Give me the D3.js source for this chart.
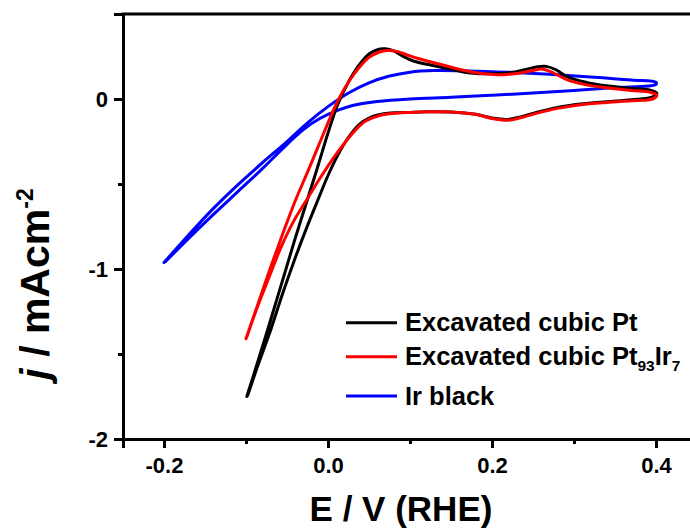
<!DOCTYPE html>
<html><head><meta charset="utf-8">
<script src="https://cdn.jsdelivr.net/npm/d3@7"></script>
<style>
body{margin:0;background:#fff;}
svg{display:block;}
text{font-family:Arial,"Liberation Sans",sans-serif;font-weight:bold;fill:#000;}
</style></head>
<body>
<svg id="c" width="690" height="528"></svg>
<script>
// ---- data ----
const xMajorTicks = [-0.2, 0.0, 0.2, 0.4];
const xMinorTicks = [-0.1, 0.1, 0.3];
const yMajorTicks = [-2, -1, 0];
const yMinorTicks = [-1.5, -0.5, 0.5];
const seriesNames = ["Excavated cubic Pt", "Excavated cubic Pt93Ir7", "Ir black"];
const seriesColors = ["#000000", "#ff0000", "#0000ff"];

// Excavated cubic Pt: E (V) and j (mA cm^-2) in sweep order
const ptE = [-0.099,-0.085,-0.070,-0.055,-0.040,-0.025,-0.012,0.000,0.012,0.025,0.038,0.050,0.062,0.070,0.080,0.092,0.105,0.125,0.150,0.174,0.200,0.222,0.240,0.256,0.266,0.278,0.292,0.315,0.340,0.370,0.393,0.401,
  0.396,0.370,0.340,0.308,0.280,0.255,0.235,0.219,0.200,0.180,0.150,0.120,0.097,0.076,0.062,0.050,0.038,0.025,0.012,0.000,-0.012,-0.025,-0.040,-0.055,-0.070,-0.085,-0.098];
const ptJ = [-1.750,-1.535,-1.300,-1.060,-0.820,-0.590,-0.390,-0.200,-0.030,0.100,0.200,0.265,0.293,0.295,0.283,0.250,0.222,0.200,0.175,0.153,0.148,0.155,0.172,0.190,0.192,0.172,0.130,0.098,0.078,0.062,0.052,0.035,
  0.012,-0.004,-0.016,-0.030,-0.050,-0.078,-0.105,-0.120,-0.112,-0.090,-0.076,-0.075,-0.079,-0.083,-0.093,-0.112,-0.150,-0.225,-0.330,-0.450,-0.590,-0.745,-0.935,-1.140,-1.360,-1.560,-1.745];

// Excavated cubic Pt93Ir7
const ptirE = [-0.100,-0.085,-0.070,-0.055,-0.040,-0.025,-0.012,0.000,0.012,0.025,0.038,0.050,0.062,0.072,0.084,0.095,0.110,0.140,0.174,0.205,0.230,0.250,0.260,0.272,0.292,0.315,0.340,0.370,0.393,0.401,
  0.396,0.370,0.340,0.308,0.280,0.255,0.235,0.219,0.200,0.180,0.150,0.120,0.101,0.085,0.070,0.058,0.046,0.034,0.020,0.007,-0.009,-0.025,-0.042,-0.058,-0.072,-0.087,-0.099];
const ptirJ = [-1.410,-1.200,-0.990,-0.790,-0.600,-0.430,-0.280,-0.140,-0.010,0.100,0.185,0.245,0.275,0.285,0.280,0.262,0.238,0.200,0.160,0.143,0.150,0.168,0.176,0.160,0.112,0.083,0.066,0.050,0.040,0.022,
  0.000,-0.010,-0.020,-0.034,-0.055,-0.083,-0.110,-0.125,-0.115,-0.090,-0.076,-0.075,-0.079,-0.083,-0.090,-0.105,-0.130,-0.180,-0.260,-0.345,-0.460,-0.585,-0.720,-0.880,-1.050,-1.235,-1.400];

// Ir black
const irE = [-0.200,-0.170,-0.140,-0.110,-0.080,-0.050,-0.025,0.000,0.025,0.050,0.075,0.100,0.130,0.170,0.220,0.270,0.320,0.370,0.400,
  0.400,0.350,0.300,0.250,0.200,0.150,0.100,0.060,0.030,0.010,-0.010,-0.030,-0.055,-0.080,-0.110,-0.140,-0.170,-0.198];
const irJ = [-0.962,-0.800,-0.645,-0.505,-0.375,-0.250,-0.140,-0.045,0.035,0.095,0.135,0.158,0.167,0.165,0.157,0.145,0.130,0.112,0.098,
  0.086,0.067,0.050,0.035,0.022,0.010,0.000,-0.015,-0.038,-0.070,-0.115,-0.180,-0.290,-0.410,-0.545,-0.680,-0.820,-0.955];

// ---- chart ----
const svg = d3.select("#c");
const x = d3.scaleLinear().domain([-0.25, 0.45]).range([123, 697]);
const y = d3.scaleLinear().domain([-2, 0.5]).range([439, 14]);

const line = d3.line().x(d => x(d[0])).y(d => y(d[1])).curve(d3.curveCatmullRom.alpha(0.5));
const series = [d3.zip(ptE, ptJ), d3.zip(ptirE, ptirJ), d3.zip(irE, irJ)];
[2, 0, 1].forEach(i => {
  svg.append("path").attr("d", line(series[i])).attr("fill", "none")
    .attr("stroke", seriesColors[i]).attr("stroke-width", 3).attr("stroke-linejoin", "round").attr("stroke-linecap", "round");
});

// axes
const fmtX = d => d === 0 ? "0.0" : d3.format(".1f")(d).replace("−", "-");
const fmtY = d => String(d);
const gx = svg.append("g").attr("transform", `translate(0,${y(-2)})`)
  .call(d3.axisBottom(x).tickValues(xMajorTicks).tickSize(9).tickPadding(9).tickFormat(fmtX));
const gxm = svg.append("g").attr("transform", `translate(0,${y(-2)})`)
  .call(d3.axisBottom(x).tickValues(xMinorTicks).tickSize(5).tickFormat(""));
const gy = svg.append("g").attr("transform", `translate(${x(-0.25)},0)`)
  .call(d3.axisLeft(y).tickValues(yMajorTicks).tickSize(9).tickPadding(6).tickFormat(fmtY));
const gym = svg.append("g").attr("transform", `translate(${x(-0.25)},0)`)
  .call(d3.axisLeft(y).tickValues(yMinorTicks).tickSize(5).tickFormat(""));
[gx, gxm, gy, gym].forEach(g => {
  g.select(".domain").attr("stroke-width", 3).attr("stroke", "#000");
  g.selectAll(".tick line").attr("stroke-width", 3).attr("stroke", "#000");
  g.selectAll(".tick text").style("font-size", "22px").style("font-family", "Arial, 'Liberation Sans', sans-serif").style("font-weight", "bold").attr("fill", "#000");
});
// top frame line
svg.append("line").attr("x1", x(-0.25) - 1.5).attr("x2", x(0.45)).attr("y1", y(0.5)).attr("y2", y(0.5))
  .attr("stroke", "#000").attr("stroke-width", 3);

// axis titles
svg.append("text").attr("x", 401).attr("y", 521).attr("text-anchor", "middle")
  .style("font-size", "35px").text("E / V (RHE)");
const yl = svg.append("text").attr("transform", "translate(49,284) rotate(-90)").attr("text-anchor", "middle")
  .style("font-size", "41px");
yl.append("tspan").style("font-style", "italic").text("j");
yl.append("tspan").text(" / mAcm");
yl.append("tspan").attr("dy", -16).style("font-size", "23px").text("-2");

// legend
const legY = [322.7, 356.7, 396];
const leg = svg.append("g");
seriesNames.forEach((n, i) => {
  leg.append("line").attr("x1", 346).attr("x2", 397).attr("y1", legY[i]).attr("y2", legY[i])
    .attr("stroke", seriesColors[i]).attr("stroke-width", 3);
  const t = leg.append("text").attr("x", 405).attr("y", legY[i] + 8.5).style("font-size", "25.5px");
  if (i === 1) {
    t.append("tspan").text("Excavated cubic Pt");
    t.append("tspan").attr("dy", 6).style("font-size", "15.5px").text("93");
    t.append("tspan").attr("dy", -6).text("Ir");
    t.append("tspan").attr("dy", 6).style("font-size", "15.5px").text("7");
  } else {
    t.text(n);
  }
});
</script>
</body></html>
